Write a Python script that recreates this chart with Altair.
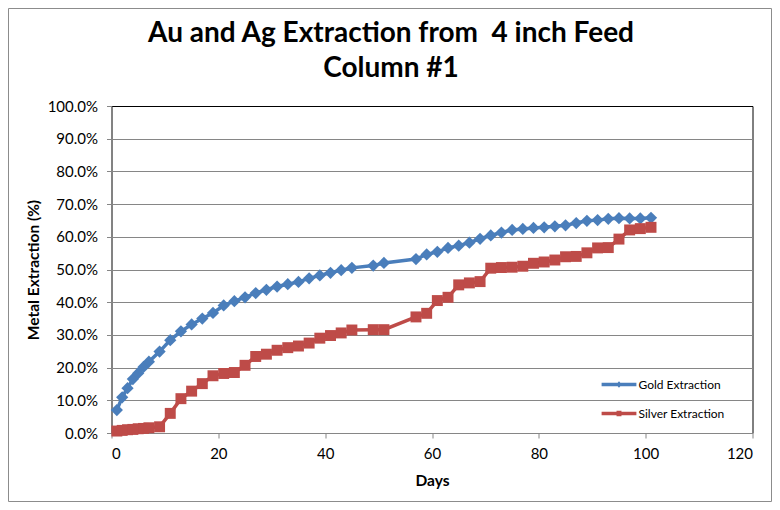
import altair as alt
import pandas as pd

days = [1, 2, 3, 4, 5, 6, 7, 9, 11, 13, 15, 17, 19, 21, 23, 25, 27, 29, 31, 33,
        35, 37, 39, 41, 43, 45, 49, 51, 57, 59, 61, 63, 65, 67, 69, 71, 73, 75,
        77, 79, 81, 83, 85, 87, 89, 91, 93, 95, 97, 99, 101]
gold = [7.0, 10.9, 13.7, 16.5, 18.3, 20.2, 21.8, 24.9, 28.4, 31.1, 33.2, 35.0,
        36.7, 39.0, 40.3, 41.5, 42.8, 43.8, 44.8, 45.5, 46.2, 47.3, 48.2, 49.0,
        49.8, 50.5, 51.2, 52.0, 53.2, 54.6, 55.4, 56.6, 57.3, 58.2, 59.4, 60.4,
        61.3, 62.1, 62.4, 62.7, 62.9, 63.2, 63.5, 64.2, 64.9, 65.1, 65.5, 65.7,
        65.6, 65.6, 65.8]
silver = [0.6, 0.8, 1.0, 1.1, 1.3, 1.4, 1.6, 1.9, 6.0, 10.5, 12.8, 15.1, 17.5,
          18.2, 18.5, 20.7, 23.4, 24.1, 25.3, 26.1, 26.6, 27.5, 29.0, 29.8, 30.6,
          31.5, 31.6, 31.6, 35.5, 36.6, 40.5, 41.5, 45.3, 45.9, 46.3, 50.4, 50.6,
          50.7, 51.0, 51.9, 52.3, 52.9, 53.9, 54.0, 55.1, 56.6, 56.7, 59.3, 62.1,
          62.5, 62.9]

series_names = ["Gold Extraction", "Silver Extraction"]
series_colors = ["#4A7EBB", "#BE4B48"]
series_shapes = ["diamond", "square"]
series_sizes = [150, 120]
x_ticks = [0, 20, 40, 60, 80, 100, 120]
y_ticks = [0, 10, 20, 30, 40, 50, 60, 70, 80, 90, 100]
title_lines = ["Au and Ag Extraction from\u00a0 4 inch Feed", "Column #1"]

df = pd.DataFrame({
    "Days": days + days,
    "Extraction": gold + silver,
    "Series": [series_names[0]] * len(days) + [series_names[1]] * len(days),
})

FONT = "Lato"
GRID = "#868686"

gold_path = "M-1.2,-0.12H1.2V0.12H-1.2Z M0,-0.22L0.2,0L0,0.22L-0.2,0Z"
silver_path = "M-1.2,-0.12H1.2V0.12H-1.2Z M-0.17,-0.19H0.17V0.19H-0.17Z"

legend = alt.Legend(
    title=None, orient="none", legendX=493, legendY=264,
    symbolSize=841, symbolStrokeWidth=0, symbolOpacity=1,
    labelFont=FONT, labelFontSize=12, labelColor="#000000", labelOffset=5,
    rowPadding=8, padding=0,
)

x = alt.X("Days:Q", title="Days",
          scale=alt.Scale(domain=[0, 120], nice=False),
          axis=alt.Axis(values=x_ticks, grid=False, tickSize=5, labelPadding=8,
                        titlePadding=12, domainColor=GRID, tickColor=GRID))
y = alt.Y("Extraction:Q", title="Metal Extraction (%)",
          scale=alt.Scale(domain=[0, 100], nice=False),
          axis=alt.Axis(values=y_ticks, tickSize=5, labelPadding=9,
                        labelExpr="format(datum.value, '.1f') + '%'",
                        gridColor=alt.condition("datum.value === 100", alt.value("#000000"), alt.value(GRID)),
                        domainColor=GRID, tickColor=GRID,
                        titleX=-78, titleY=163.5, titleAngle=-90,
                        titleAlign="center", titleBaseline="middle"))

border = alt.Chart(alt.Data(values=[{"k": 1}])).mark_rect(
    fillOpacity=0, stroke="#8C8C8C", strokeWidth=1
).encode(x=alt.value(-103), x2=alt.value(660), y=alt.value(-97.5), y2=alt.value(395.5))

base = alt.Chart(df)
layers = [border]
for name, colr, shape, size in zip(series_names, series_colors, series_shapes, series_sizes):
    s = base.transform_filter(alt.datum.Series == name)
    layers.append(s.mark_line(strokeWidth=3.5, color=colr).encode(x=x, y=y))
    layers.append(s.mark_point(filled=True, opacity=1, shape=shape, size=size, color=colr).encode(x=x, y=y))

legend_layer = base.transform_filter("false").mark_point(filled=True, opacity=1, size=841).encode(
    x=x, y=y,
    color=alt.Color("Series:N", scale=alt.Scale(domain=series_names, range=series_colors), legend=legend),
    shape=alt.Shape("Series:N", scale=alt.Scale(domain=series_names, range=[gold_path, silver_path]),
                    legend=legend),
)
layers.append(legend_layer)

chart = alt.layer(*layers).properties(
    width=641, height=327,
    background="white",
    title=alt.TitleParams(
        text=title_lines,
        font=FONT, fontSize=28, fontWeight="bold", color="#000000",
        anchor="middle", dx=-41, offset=-97, lineHeight=35.5, baseline="alphabetic"),
    padding={"left": 103.5, "top": 98, "right": 19.5, "bottom": 69},
    autosize=alt.AutoSizeParams(type="none"),
).configure_view(stroke="#000000", strokeWidth=1).configure_axis(
    labelFont=FONT, labelFontSize=15, labelColor="#000000",
    titleFont=FONT, titleFontSize=15.5, titleFontWeight="bold", titleColor="#000000",
    gridWidth=1, domainWidth=1,
)

chart.save("out.html", embed_options={"renderer": "svg", "actions": False})
